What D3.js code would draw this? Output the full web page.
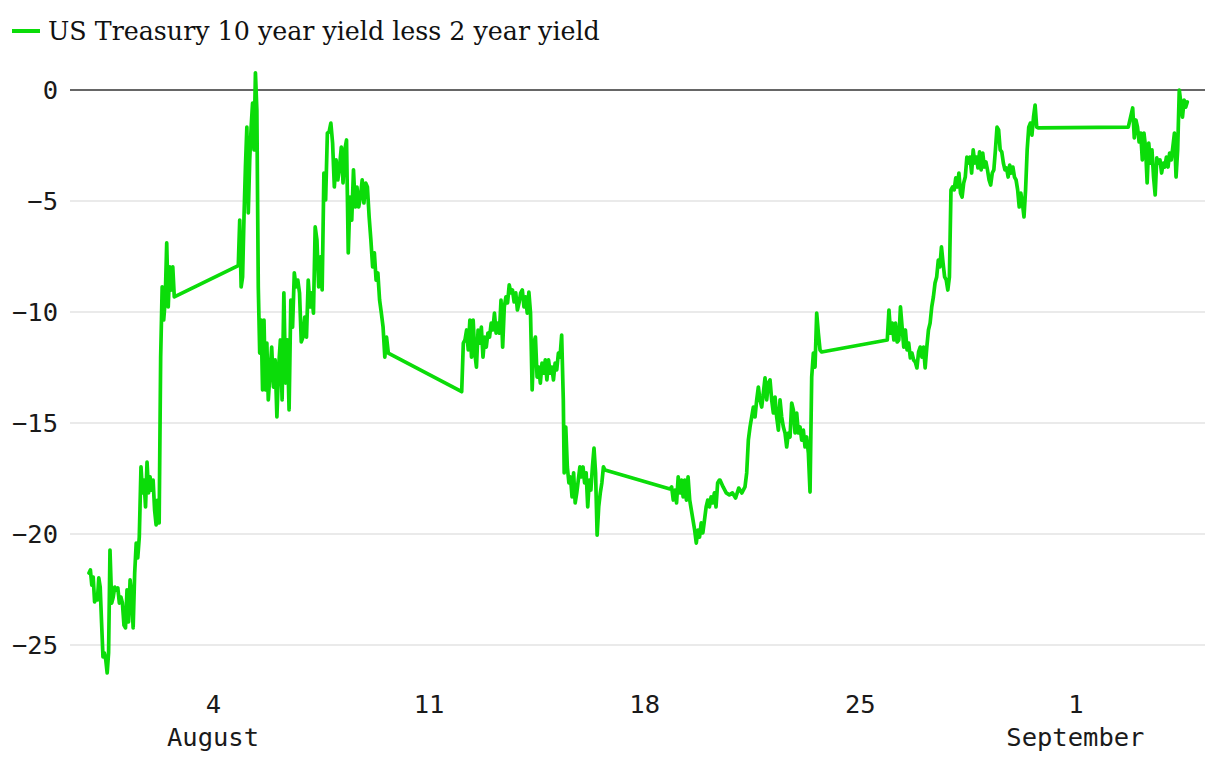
<!DOCTYPE html>
<html>
<head>
<meta charset="utf-8">
<script src="https://cdn.jsdelivr.net/npm/d3@7"></script>
<style>
  html, body { margin: 0; padding: 0; background: #ffffff; }
  svg { display: block; }
</style>
</head>
<body>
<svg id="chart" width="1220" height="768"></svg>
<script>
// ---- Data: US Treasury 10y minus 2y yield spread (basis points) ----
// Each segment is a stretch of quotes spread evenly between its start and end time.
const segmentStart = [
  "2024-07-30T23:23Z", "2024-07-31T17:04Z", "2024-08-01T15:54Z",
  "2024-08-04T19:43Z", "2024-08-05T21:44Z",
  "2024-08-12T01:47Z", "2024-08-15T09:40Z",
  "2024-08-18T20:06Z", "2024-08-20T11:04Z", "2024-08-21T07:52Z",
  "2024-08-25T21:26Z", "2024-08-27T13:10Z",
  "2024-09-02T17:13Z", "2024-09-02T20:39Z"
];
const segmentEnd = [
  "2024-07-31T15:44Z", "2024-08-01T14:34Z", "2024-08-02T17:50Z",
  "2024-08-05T19:05Z", "2024-08-09T16:36Z",
  "2024-08-15T08:58Z", "2024-08-16T17:27Z",
  "2024-08-20T10:31Z", "2024-08-21T06:32Z", "2024-08-23T18:19Z",
  "2024-08-27T11:55Z", "2024-08-30T19:05Z",
  "2024-09-02T17:13Z", "2024-09-04T15:12Z"
];

const spreadJul31a = [-21.76,-21.62,-22.30,-21.94,-23.06,-22.84,-22.97,-21.98,-22.39,-24.01,-25.54,-25.36,-25.68,-26.26,-25.36,-20.72];
const spreadJul31b = [-23.11,-22.84,-22.39,-22.52,-22.43,-23.11,-22.84,-23.11,-24.10,-24.23,-22.52,-23.96,-22.07,-22.75,-24.23,-21.76,-20.41,-21.08,-20.14];
const spreadAug01 = [-16.98,-18.15,-17.57,-18.78,-16.76,-18.15,-17.43,-18.02,-17.57,-18.92,-19.59,-18.47,-19.50,-12.03,-8.87,-10.36,-9.46,-6.89,-9.77,-7.97,-9.01,-7.97,-9.32];
const spreadAug04 = [-7.91,-5.86,-8.87,-8.42,-5.72,-3.47,-1.67,-5.54,-3.15,-1.67,-0.59,-2.70,0.77,-0.90,-8.87,-11.85,-10.36,-13.51,-10.36,-13.51,-11.40,-13.96];
const spreadAug05 = [-11.58,-13.38,-12.16,-14.73,-12.48,-11.26,-13.96,-9.14,-13.20,-11.26,-14.41,-9.46,-10.68,-8.24,-8.87,-8.56,-9.14,-11.35,-11.13,-10.23,-11.13,-8.56,-9.77,-9.14,-10.05,-6.17,-6.76,-8.87,-7.52,-9.01,-3.74,-4.95,-1.94,-1.89,-1.49,-2.39,-4.37,-3.15,-4.05,-3.47,-2.57,-4.19,-2.70,-2.25,-7.34,-4.82,-5.86,-3.60,-5.27,-4.37,-5.27,-4.82,-4.05,-5.09,-4.19,-4.37,-5.72,-6.76,-7.97,-7.34,-8.56,-8.24,-9.46,-10.05,-10.68,-12.03,-11.13,-11.85];
const spreadAug12 = [-13.59,-11.40,-11.26,-10.81,-11.71,-10.36,-12.03,-10.36,-11.85,-12.48,-10.81,-11.40,-10.68,-12.03,-11.13,-11.58,-10.95,-11.13,-10.50,-10.81,-10.05,-10.95,-10.50,-10.95,-9.46,-11.58,-9.77,-9.32,-9.59,-8.78,-9.14,-9.01,-9.55,-9.14,-9.91,-9.59,-9.14,-9.01,-9.77,-9.32,-10.05,-9.10,-10.05,-13.51,-11.40,-11.13,-12.93,-12.48,-13.20,-12.30,-12.75,-12.16,-13.06,-12.16,-12.75,-12.48,-13.06,-12.30,-12.61,-11.85,-12.03,-11.04,-13.96];
const spreadAug15 = [-17.25,-15.18,-16.98,-17.70,-17.43,-18.33,-17.25,-18.60,-18.15,-17.57,-16.98,-17.43,-16.98,-17.70,-17.25,-18.78,-17.57,-18.02,-16.98,-16.13,-17.25,-20.05,-18.78,-18.15,-17.70,-16.98,-17.12];
const spreadAug18 = [-17.97,-17.88,-18.47,-18.02,-18.60,-17.43,-18.15,-17.57,-18.33,-17.57,-18.47,-17.43,-18.47,-18.92,-19.37,-19.82,-20.41,-19.82,-20.14,-19.50,-19.95,-19.37,-18.78,-18.47,-18.78,-18.33,-18.60,-18.15,-18.78,-17.70,-17.57];
const spreadAug20 = [-17.57,-17.88,-18.15,-18.24,-18.15,-18.38,-17.93,-18.15,-17.88];
const spreadAug21 = [-17.25,-15.77,-15.18,-14.73,-14.28,-14.73,-13.96,-13.38,-13.96,-14.28,-13.65,-12.97,-13.96,-13.20,-13.06,-13.96,-14.55,-13.83,-14.73,-15.32,-13.96,-14.73,-15.18,-15.45,-16.08,-15.45,-15.63,-14.10,-14.41,-15.45,-14.55,-15.45,-15.18,-15.77,-15.32,-16.08,-15.63,-16.35,-18.11,-12.93,-11.85,-12.48,-10.05,-10.95,-11.71,-11.80];
const spreadAug25 = [-11.26,-9.91,-10.95,-10.50,-11.26,-10.50,-11.35,-11.26,-9.77,-10.68,-11.58,-10.81,-11.71,-11.40,-12.07,-11.85,-12.16,-12.25,-12.52,-11.80,-11.58,-12.03,-11.58,-12.52,-11.58,-10.81,-10.50,-9.77,-9.32,-8.69,-8.42];
const spreadAug27 = [-7.66,-7.97,-7.07,-7.79,-8.42,-8.56,-9.01,-8.42,-4.50,-4.37,-4.50,-3.96,-4.37,-3.74,-4.64,-4.82,-4.19,-3.92,-3.02,-3.29,-3.02,-3.74,-2.70,-3.29,-3.02,-3.51,-2.79,-3.60,-2.84,-3.47,-3.24,-3.60,-4.05,-4.28,-3.74,-3.60,-2.70,-1.67,-1.80,-2.70,-2.79,-3.29,-3.60,-3.51,-3.92,-3.38,-3.74,-3.47,-3.92,-4.05,-4.50,-5.27,-4.64,-5.09,-5.72,-4.50,-2.70,-1.67,-1.49,-2.03,-1.22,-0.68,-1.67,-1.71];
const spreadSep02a = [-1.67];
const spreadSep02b = [-0.81,-2.16,-1.35,-1.67,-2.34,-1.94,-3.15,-1.94,-2.57,-4.19,-2.39,-3.29,-2.70,-3.92,-4.73,-3.06,-3.29,-3.15,-3.74,-3.29,-3.47,-3.02,-3.47,-2.84,-3.15,-2.57,-1.94,-3.92,-2.70,0.00,-0.59,-1.22,-0.45,-0.77,-0.54];

const segmentValues = [
  spreadJul31a, spreadJul31b, spreadAug01,
  spreadAug04, spreadAug05,
  spreadAug12, spreadAug15,
  spreadAug18, spreadAug20, spreadAug21,
  spreadAug25, spreadAug27,
  spreadSep02a, spreadSep02b
];

const yTickValues = [0, -5, -10, -15, -20, -25];
const xTickDates = ["2024-08-04", "2024-08-11", "2024-08-18", "2024-08-25", "2024-09-01"];
const seriesName = "US Treasury 10 year yield less 2 year yield";

// ---- Build points ----
const parse = d3.isoParse;
const points = [];
segmentValues.forEach((vals, i) => {
  const t0 = parse(segmentStart[i]).getTime();
  const t1 = parse(segmentEnd[i]).getTime();
  const n = vals.length;
  vals.forEach((v, k) => {
    const t = n > 1 ? t0 + (t1 - t0) * k / (n - 1) : t0;
    points.push({ date: new Date(t), value: v });
  });
});

// ---- Layout ----
const svg = d3.select("#chart");
const lineColor = "#0bdc09";
const monoFont = "'DejaVu Sans Mono', 'Liberation Mono', monospace";
const serifFont = "'DejaVu Serif', 'Liberation Serif', serif";

const x = d3.scaleUtc()
  .domain([parse(segmentStart[0]), parse(segmentEnd[segmentEnd.length - 1])])
  .range([89, 1187.3]);
const y = d3.scaleLinear().domain([-25, 0]).range([645, 90]);

const gridLeft = 70, gridRight = 1205;

// gridlines
const grid = svg.append("g");
grid.selectAll("line")
  .data(yTickValues.filter(d => d !== 0))
  .join("line")
  .attr("x1", gridLeft).attr("x2", gridRight)
  .attr("y1", d => y(d)).attr("y2", d => y(d))
  .attr("stroke", "#e3e3e3").attr("stroke-width", 1.5);

// y labels
const yAxis = d3.axisLeft(y).tickValues(yTickValues).tickSize(0).tickPadding(0)
  .tickFormat(d => d < 0 ? "\u2212" + Math.abs(d) : String(d));
const gy = svg.append("g").attr("transform", "translate(58,0)").call(yAxis);
gy.select(".domain").remove();
gy.selectAll("text")
  .attr("font-family", monoFont).attr("font-size", "25.5px")
  .attr("fill", "#1a1a1a").attr("dy", "0.35em").attr("x", 0);

// zero line
svg.append("line")
  .attr("x1", gridLeft).attr("x2", gridRight)
  .attr("y1", y(0)).attr("y2", y(0))
  .attr("stroke", "#333333").attr("stroke-width", 1.6);

// x labels
const tickDates = xTickDates.map(s => parse(s + "T00:00Z"));
const xAxis = d3.axisBottom(x).tickValues(tickDates).tickSize(0).tickPadding(0)
  .tickFormat(d3.utcFormat("%-d"));
const gx = svg.append("g").attr("transform", "translate(0,713)").call(xAxis);
gx.select(".domain").remove();
gx.selectAll("text")
  .attr("font-family", monoFont).attr("font-size", "25.5px")
  .attr("fill", "#1a1a1a").attr("dy", 0).attr("y", 0);

// month labels under first tick of each month
const monthFmt = d3.utcFormat("%B");
let lastMonth = null;
tickDates.forEach(d => {
  const m = d.getUTCMonth();
  if (m !== lastMonth) {
    svg.append("text")
      .attr("x", x(d)).attr("y", 746)
      .attr("text-anchor", "middle")
      .attr("font-family", monoFont).attr("font-size", "25.5px")
      .attr("fill", "#1a1a1a")
      .text(monthFmt(d));
    lastMonth = m;
  }
});

// series line
const line = d3.line().x(d => x(d.date)).y(d => y(d.value)).curve(d3.curveLinear);
svg.append("path")
  .datum(points)
  .attr("d", line)
  .attr("fill", "none")
  .attr("stroke", lineColor)
  .attr("stroke-width", 3.7)
  .attr("stroke-linejoin", "round")
  .attr("stroke-linecap", "round");

// legend
const legend = svg.append("g");
legend.append("line")
  .attr("x1", 12).attr("x2", 40).attr("y1", 31).attr("y2", 31)
  .attr("stroke", lineColor).attr("stroke-width", 4);
const legText = legend.append("text")
  .attr("x", 48).attr("y", 40)
  .attr("font-family", serifFont).attr("font-size", "25px")
  .attr("fill", "#111111")
  .text(seriesName);
// fit legend text to reference width
const w = legText.node().getComputedTextLength();
if (w > 0) legText.attr("font-size", (25 * 552 / w).toFixed(2) + "px");
</script>
</body>
</html>
